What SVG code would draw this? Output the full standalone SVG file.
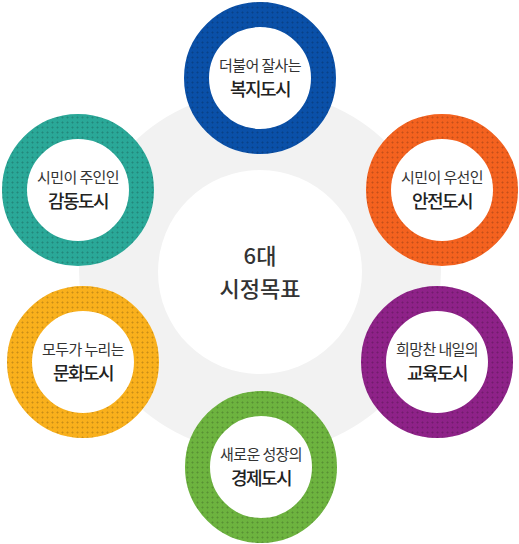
<svg xmlns="http://www.w3.org/2000/svg" width="519" height="544" viewBox="0 0 519 544">
<style>
.ring{fill:none;stroke-width:25}
.tex{fill:none;stroke-width:25;stroke:url(#dots)}
.t1{font-family:"Noto Sans CJK KR","Noto Sans",sans-serif;font-size:15px;fill:#333;text-anchor:middle;letter-spacing:-0.6px}
.t2{font-family:"Noto Sans CJK KR","Noto Sans",sans-serif;font-size:18px;font-weight:500;fill:#222;text-anchor:middle;letter-spacing:-1.5px}
.tc{font-family:"Noto Sans CJK KR","Noto Sans",sans-serif;font-size:22px;font-weight:500;fill:#333;text-anchor:middle}
</style>
<defs>
<pattern id="dots" width="5" height="5" patternUnits="userSpaceOnUse">
<path d="M2.5 1v3M1 2.5h3" stroke="#000" stroke-opacity="0.1" stroke-width="1"/>
</pattern>
</defs>
<rect width="519" height="544" fill="#fff"/>
<g id="center">
<circle cx="260" cy="272" r="181" fill="#f2f2f2"/>
<circle cx="260" cy="272" r="102" fill="#fff"/>
<text class="tc" x="260" y="264">6대</text>
<text class="tc" x="260" y="297">시정목표</text>
</g>
<g id="connectors"></g>
<g id="welfare">
<circle cx="260" cy="78" r="76" fill="#fff"/>
<circle class="ring" cx="260" cy="78" r="63.5" stroke="#0a50a8"/>
<circle class="tex" cx="260" cy="78" r="63.5"/>
<text class="t1" x="260" y="71">더불어 잘사는</text>
<text class="t2" x="260" y="96">복지도시</text>
</g>
<g id="emotion">
<circle cx="78" cy="190" r="76" fill="#fff"/>
<circle class="ring" cx="78" cy="190" r="63.5" stroke="#2aa898"/>
<circle class="tex" cx="78" cy="190" r="63.5"/>
<text class="t1" x="78" y="183">시민이 주인인</text>
<text class="t2" x="78" y="208">감동도시</text>
</g>
<g id="safety">
<circle cx="442" cy="190" r="76" fill="#fff"/>
<circle class="ring" cx="442" cy="190" r="63.5" stroke="#f4621f"/>
<circle class="tex" cx="442" cy="190" r="63.5"/>
<text class="t1" x="442" y="183">시민이 우선인</text>
<text class="t2" x="442" y="208">안전도시</text>
</g>
<g id="culture">
<circle cx="83" cy="362" r="76" fill="#fff"/>
<circle class="ring" cx="83" cy="362" r="63.5" stroke="#f9b01c"/>
<circle class="tex" cx="83" cy="362" r="63.5"/>
<text class="t1" x="83" y="355">모두가 누리는</text>
<text class="t2" x="83" y="380">문화도시</text>
</g>
<g id="education">
<circle cx="437" cy="362" r="76" fill="#fff"/>
<circle class="ring" cx="437" cy="362" r="63.5" stroke="#8e2288"/>
<circle class="tex" cx="437" cy="362" r="63.5"/>
<text class="t1" x="437" y="355">희망찬 내일의</text>
<text class="t2" x="437" y="380">교육도시</text>
</g>
<g id="economy">
<circle cx="261" cy="467" r="76" fill="#fff"/>
<circle class="ring" cx="261" cy="467" r="63.5" stroke="#6db33f"/>
<circle class="tex" cx="261" cy="467" r="63.5"/>
<text class="t1" x="261" y="460">새로운 성장의</text>
<text class="t2" x="261" y="485">경제도시</text>
</g>
</svg>
